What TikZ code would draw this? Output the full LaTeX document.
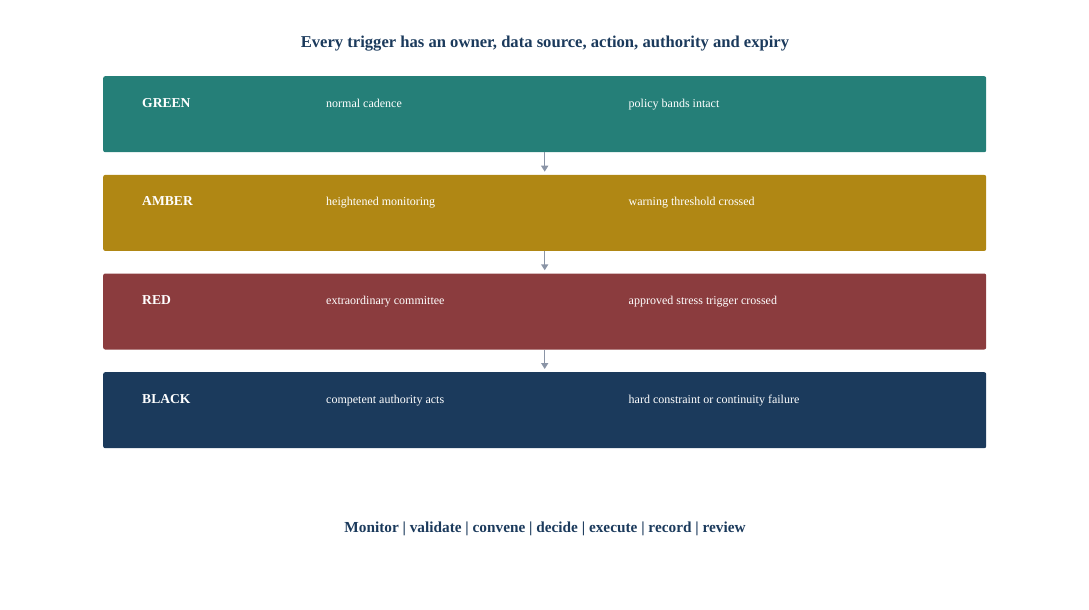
\documentclass[tikz,border=0pt]{standalone}
\usepackage{fontspec}
\setmainfont{Liberation Serif}
\usetikzlibrary{arrows.meta}
\definecolor{navy}{HTML}{1B3A5C}
\definecolor{tealband}{HTML}{257F78}
\definecolor{amberband}{HTML}{B08714}
\definecolor{redband}{HTML}{8B3C3E}
\definecolor{blackband}{HTML}{1B3A5C}
\definecolor{flowgray}{HTML}{8A94A6}

\begin{document}
\begin{tikzpicture}[
    x=1pt, y=-1pt,
    band/.style={rectangle, rounded corners=2pt, minimum width=883pt, minimum height=76pt, inner sep=0pt, anchor=north west},
    level/.style={anchor=base west, text=white, font=\fontsize{13.6}{16}\selectfont\bfseries, inner sep=0pt},
    cell/.style={anchor=base west, text=white, font=\fontsize{12}{14}\selectfont, inner sep=0pt},
    flow/.style={draw=flowgray, line width=1.5pt, -{Triangle[length=6pt,width=7pt]}, shorten >=3pt}
    ]
    \useasboundingbox (0,0) rectangle (1089,610);

    % heading
    \node[anchor=base, text=navy, font=\fontsize{16.6}{19}\selectfont\bfseries] (title) at (545,48)
        {Every trigger has an owner, data source, action, authority and expiry};

    % stages
    \node[band, fill=tealband]   (green) at (103,76) {};
    \node[band, fill=amberband]  (amber) at (103,174.7) {};
    \node[band, fill=redband]    (red)   at (103,273.3) {};
    \node[band, fill=blackband]  (black) at (103,372) {};

    \node[level] (greenlbl) at (142,107) {GREEN};
    \node[cell]  (greenact) at (326,107) {normal cadence};
    \node[cell]  (greentrg) at (628.5,107) {policy bands intact};

    \node[level] (amberlbl) at (142,205.7) {AMBER};
    \node[cell]  (amberact) at (326,205.7) {heightened monitoring};
    \node[cell]  (ambertrg) at (628.5,205.7) {warning threshold crossed};

    \node[level] (redlbl) at (142,304.3) {RED};
    \node[cell]  (redact) at (326,304.3) {extraordinary committee};
    \node[cell]  (redtrg) at (628.5,304.3) {approved stress trigger crossed};

    \node[level] (blacklbl) at (142,403) {BLACK};
    \node[cell]  (blackact) at (326,403) {competent authority acts};
    \node[cell]  (blacktrg) at (628.5,403) {hard constraint or continuity failure};

    % escalation
    \draw[flow] (green.south) -- (amber.north);
    \draw[flow] (amber.south) -- (red.north);
    \draw[flow] (red.south) -- (black.north);

    % cycle
    \node[anchor=base, text=navy, font=\fontsize{15.3}{18}\selectfont\bfseries] (cycle) at (545,532)
        {Monitor | validate | convene | decide | execute | record | review};
\end{tikzpicture}
\end{document}
